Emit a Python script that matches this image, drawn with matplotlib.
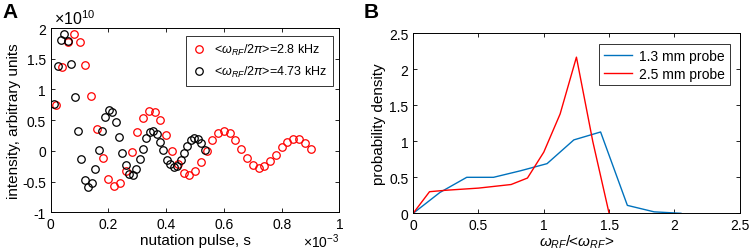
import matplotlib
matplotlib.use("Agg")
import matplotlib.pyplot as plt
from matplotlib.ticker import FuncFormatter
import numpy as np

plt.rcParams["font.family"] = ["Liberation Sans", "DejaVu Sans"]
plt.rcParams["mathtext.fontset"] = "custom"
plt.rcParams["mathtext.rm"] = "Liberation Sans"
plt.rcParams["mathtext.it"] = "Liberation Sans:italic"

# panel A: nutation curves (time in ms, intensity in 1e10)
t_28 = [0.02, 0.04, 0.06, 0.08, 0.10, 0.12, 0.14, 0.16, 0.18, 0.20,
        0.22, 0.24, 0.26, 0.28, 0.30, 0.32, 0.34, 0.36, 0.38, 0.40,
        0.42, 0.44, 0.46, 0.48, 0.50, 0.52, 0.54, 0.56, 0.58, 0.60,
        0.62, 0.64, 0.66, 0.68, 0.70, 0.72, 0.74, 0.76, 0.78, 0.80,
        0.82, 0.84, 0.86, 0.88, 0.90]
i_28 = [0.75, 1.37, 1.78, 1.90, 1.77, 1.40, 0.90, 0.35, -0.12, -0.45,
        -0.58, -0.53, -0.32, -0.02, 0.30, 0.53, 0.65, 0.63, 0.50, 0.26,
        0.00, -0.21, -0.36, -0.40, -0.32, -0.18, 0.00, 0.17, 0.29, 0.32,
        0.29, 0.17, 0.03, -0.12, -0.23, -0.28, -0.25, -0.17, -0.06, 0.06,
        0.15, 0.20, 0.19, 0.13, 0.03]
t_473 = [0.0118, 0.0237, 0.0355, 0.0474, 0.0592, 0.0710, 0.0829, 0.0947, 0.1066, 0.1184,
         0.1302, 0.1421, 0.1539, 0.1658, 0.1776, 0.1894, 0.2013, 0.2131, 0.2250, 0.2368,
         0.2486, 0.2605, 0.2723, 0.2841, 0.2960, 0.3078, 0.3197, 0.3315, 0.3433, 0.3552,
         0.3670, 0.3789, 0.3907, 0.4025, 0.4144, 0.4262, 0.4381, 0.4499, 0.4617, 0.4736,
         0.4854, 0.4972, 0.5091, 0.5209, 0.5328]
i_473 = [0.76, 1.38, 1.80, 1.91, 1.79, 1.41, 0.88, 0.33, -0.14, -0.47,
         -0.59, -0.53, -0.29, 0.01, 0.32, 0.55, 0.66, 0.63, 0.47, 0.23,
         -0.03, -0.23, -0.37, -0.39, -0.30, -0.14, 0.03, 0.21, 0.31, 0.33,
         0.27, 0.15, 0.01, -0.15, -0.22, -0.27, -0.24, -0.15, -0.03, 0.08,
         0.17, 0.21, 0.20, 0.13, 0.01]

# panel B: rf field distributions
w_13 = [0, 0.205, 0.41, 0.615, 0.82, 1.025, 1.23, 1.435, 1.64, 1.845, 2.05]
p_13 = [0, 0.29, 0.50, 0.50, 0.59, 0.69, 1.02, 1.13, 0.11, 0.02, 0.0]
w_25 = [0, 0.125, 0.25, 0.375, 0.5, 0.625, 0.75, 0.875, 1.0, 1.125, 1.25, 1.375, 1.5]
p_25 = [0, 0.30, 0.32, 0.335, 0.35, 0.375, 0.40, 0.49, 0.85, 1.38, 2.17, 1.0, 0.0]

fig = plt.figure(figsize=(7.54, 2.53), dpi=100)

# ---- A ----
ax = fig.add_axes([0.0672, 0.157, 0.383, 0.728])
ax.plot(np.array(t_28) * 1e-3, np.array(i_28) * 1e10, 'o', mfc='none', mec='red',
        ms=5.4, mew=0.9, label='<' + r'$\omega_{RF}$' + '/2' + r'$\pi$' + '>=2.8 kHz')
ax.plot(np.array(t_473) * 1e-3, np.array(i_473) * 1e10, 'o', mfc='none', mec='black',
        ms=5.4, mew=0.9, label='<' + r'$\omega_{RF}$' + '/2' + r'$\pi$' + '>=4.73 kHz')
ax.set_xlim(0, 1e-3)
ax.set_ylim(-1e10, 2e10)
ax.set_xticks(np.arange(0, 1.01, 0.2) * 1e-3)
ax.set_yticks(np.arange(-1, 2.01, 0.5) * 1e10)
ax.xaxis.set_major_formatter(FuncFormatter(lambda v, p: '%g' % round(v * 1e3, 3)))
ax.yaxis.set_major_formatter(FuncFormatter(lambda v, p: '%g' % round(v / 1e10, 3)))
ax.tick_params(direction='in', top=True, right=True, labelsize=10, length=3, width=0.6)
for s in ax.spines.values():
    s.set_linewidth(0.7)
ax.set_xlabel('nutation pulse, s', fontsize=11, labelpad=1)
ax.set_ylabel('intensity, arbitrary units', fontsize=11, labelpad=1)
ax.text(0.01, 1.005, r'$\times10^{10}$', transform=ax.transAxes, fontsize=11.5, va='bottom', ha='left')
ax.text(1.0, -0.105, r'$\times10^{-3}$', transform=ax.transAxes, fontsize=10, va='top', ha='right')
leg = ax.legend(loc='upper right', fontsize=9, handlelength=1.0, handletextpad=0.7,
                borderpad=0.5, labelspacing=0.55, fancybox=False, edgecolor='black',
                borderaxespad=0, bbox_to_anchor=(0.978, 0.957))
leg.get_frame().set_linewidth(0.7)

# ---- B ----
bx = fig.add_axes([0.548, 0.153, 0.433, 0.711])
bx.plot(w_13, p_13, color='#0072BD', lw=1.0, label='1.3 mm probe')
bx.plot(w_25, p_25, color='red', lw=1.0, label='2.5 mm probe')
bx.set_xlim(0, 2.5)
bx.set_ylim(0, 2.5)
bx.set_xticks(np.arange(0, 2.51, 0.5))
bx.set_yticks(np.arange(0, 2.51, 0.5))
bx.xaxis.set_major_formatter(FuncFormatter(lambda v, p: '%g' % round(v, 2)))
bx.yaxis.set_major_formatter(FuncFormatter(lambda v, p: '%g' % round(v, 2)))
bx.tick_params(direction='in', top=True, right=True, labelsize=10, length=3, width=0.6)
for s in bx.spines.values():
    s.set_linewidth(0.7)
bx.set_xlabel(r'$\omega_{RF}$' + '/<' + r'$\omega_{RF}$' + '>', fontsize=11, labelpad=0)
bx.set_ylabel('probability density', fontsize=11, labelpad=2)
leg2 = bx.legend(loc='upper right', fontsize=10, handlelength=2.0, handletextpad=0.5,
                 borderpad=0.35, labelspacing=0.25, fancybox=False, edgecolor='black',
                 borderaxespad=0, bbox_to_anchor=(0.969, 0.94))
leg2.get_frame().set_linewidth(0.7)

fig.text(0.003, 0.99, 'A', fontsize=15, fontweight='bold', va='top', ha='left')
fig.text(0.482, 0.99, 'B', fontsize=15, fontweight='bold', va='top', ha='left')

fig.savefig('out.png', dpi=100)
